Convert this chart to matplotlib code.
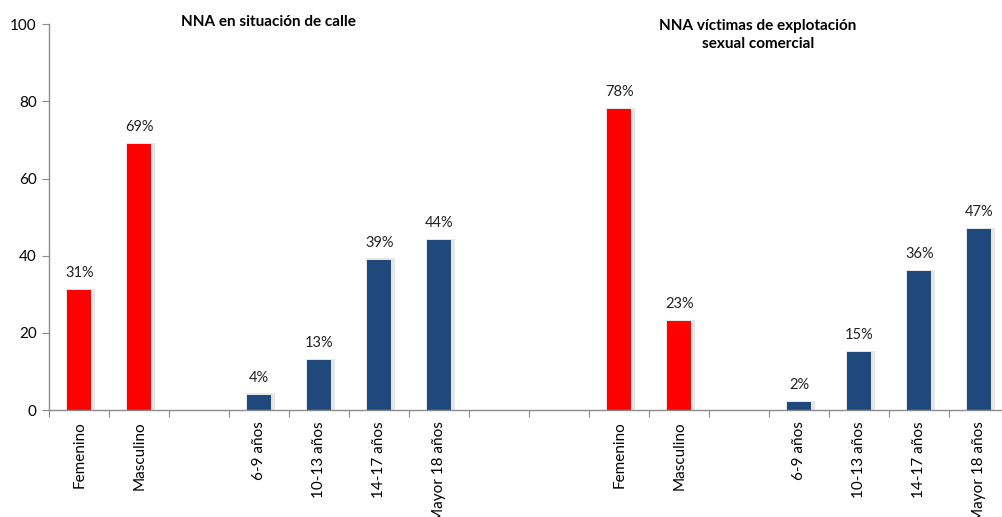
"""Two-panel bar chart: NNA en situación de calle vs. víctimas de ESC."""

import matplotlib
import matplotlib.pyplot as plt
import numpy as np

matplotlib.use("Agg")

plt.rcParams["font.family"] = ["Lato", "DejaVu Sans"]

# Categories along the x axis (blank entries are spacer slots)
categories = [
    "Femenino", "Masculino", "",
    "6-9 años", "10-13 años", "14-17 años", "Mayor 18 años", "", "",
    "Femenino", "Masculino", "",
    "6-9 años", "10-13 años", "14-17 años", "Mayor 18 años",
]
values = [31, 69, None, 4, 13, 39, 44, None, None, 78, 23, None, 2, 15, 36, 47]
groups = ["sexo", "sexo", None, "edad", "edad", "edad", "edad", None, None,
          "sexo", "sexo", None, "edad", "edad", "edad", "edad"]

panel_titles = ["NNA en situación de calle",
                "NNA víctimas de explotación\nsexual comercial"]

colors = {"sexo": "#FF0000", "edad": "#1F497D"}

W, H = 1003, 517
fig = plt.figure(figsize=(W / 100, H / 100), dpi=100)
ax = fig.add_axes([49.3 / W, 1 - 410 / H, 960 / W, (410 - 24.3) / H])

x = np.arange(len(categories))
for xi, v, g in zip(x, values, groups):
    if v is None:
        continue
    # soft shadow behind each bar
    ax.bar(xi + 0.02, v + 0.3, width=0.47, color="#e6e6e6", zorder=1)
    ax.bar(xi, v, width=0.4, color=colors[g], zorder=2)
    ax.text(xi, v + 2.6, f"{v}%", ha="center", va="bottom", fontsize=10.5,
            color="#222222")

ax.set_xlim(-0.5, len(categories) - 0.5)
ax.set_ylim(0, 100)
ax.set_yticks(range(0, 101, 20))
ax.set_xticks(np.arange(-0.5, len(categories), 1.0))
ax.set_xticklabels([])
ax.set_xticks(x, minor=True)
ax.set_xticklabels(categories, minor=True, rotation=90, fontsize=11)
ax.tick_params(axis="x", which="minor", length=0, pad=8)
ax.tick_params(axis="x", which="major", length=5, color="#8c8c8c", direction="out")
ax.tick_params(axis="y", length=5, color="#8c8c8c", labelsize=11, pad=4)

for side in ("top", "right"):
    ax.spines[side].set_visible(False)
for side in ("left", "bottom"):
    ax.spines[side].set_color("#8c8c8c")
    ax.spines[side].set_linewidth(1.0)

fig.text(268 / W, 1 - 22 / H, panel_titles[0], ha="center", va="center",
         fontsize=11, fontweight="bold")
fig.text(758 / W, 1 - 35 / H, panel_titles[1], ha="center", va="center",
         fontsize=11, fontweight="bold", linespacing=1.35)

fig.savefig("out.png", dpi=100)
